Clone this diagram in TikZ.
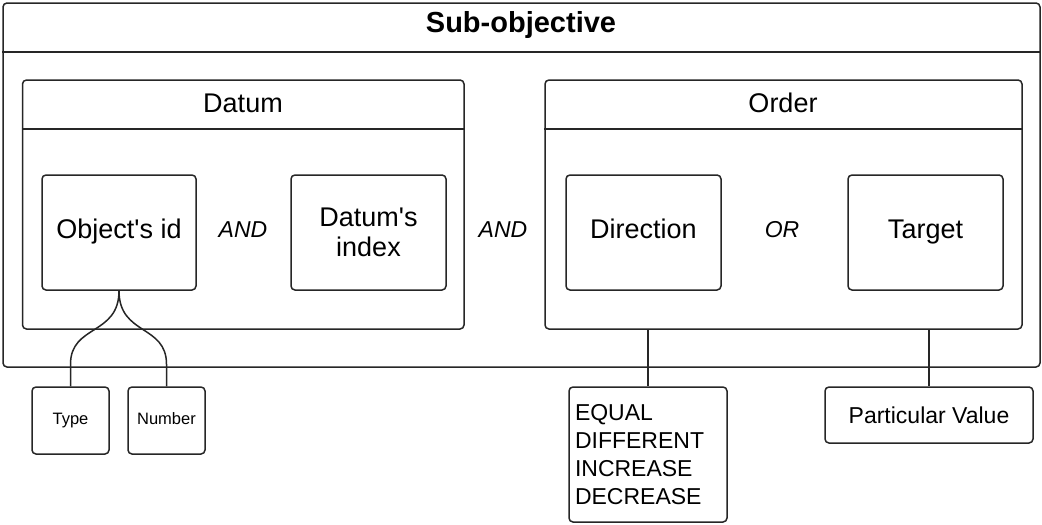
\documentclass[tikz,border=0pt]{standalone}
\usepackage{fontspec}
\setmainfont{Liberation Sans}
\usetikzlibrary{calc}
\begin{document}
\begin{tikzpicture}[x=1pt,y=-1pt,
  frame/.style={draw=black!85, line width=1.5pt, rounded corners=4pt, inner sep=0pt, fill=white},
  itembox/.style={frame, font=\fontsize{27}{30}\selectfont, align=center},
  leafbox/.style={frame},
  link/.style={draw=black!85, line width=1.5pt},
  conj/.style={font=\fontsize{23}{26}\selectfont\itshape},
  header/.style={font=\fontsize{27}{30}\selectfont}
]
\useasboundingbox (0,0) rectangle (1042,525);

% outer container
\node[frame, minimum width=1037pt, minimum height=364pt] (outer) at (521.5,185) {};
\coordinate (h1) at (0,52);
\draw[link] (outer.west |- h1) -- (outer.east |- h1);
\node[font=\fontsize{29}{32}\selectfont\bfseries] (title) at (521,25) {Sub-objective};

% Datum and Order groups
\node[frame, minimum width=441.5pt, minimum height=249pt] (datum) at (243.25,204.5) {};
\node[frame, minimum width=477pt, minimum height=249pt] (order) at (783.5,204.5) {};
\coordinate (h2) at (0,129);
\draw[link] (datum.west |- h2) -- (datum.east |- h2);
\draw[link] (order.west |- h2) -- (order.east |- h2);
\node[header] (datumlbl) at (243,103) {Datum};
\node[header] (orderlbl) at (783,103) {Order};

% inner items
\node[itembox, minimum width=154pt, minimum height=115pt] (objid) at (119,232.5) {\strut Object\textquotesingle s id};
\node[itembox, minimum width=155pt, minimum height=115pt] (index) at (368.5,232.5) {Datum\textquotesingle s\\index};
\node[itembox, minimum width=155pt, minimum height=115pt] (direction) at (643.5,232.5) {\strut Direction};
\node[itembox, minimum width=155pt, minimum height=115pt] (target) at (925.5,232.5) {\strut Target};

\node[conj] (and1) at (243,230) {AND};
\node[conj] (and2) at (503,230) {AND};
\node[conj] (or1) at (782,230) {OR};

% leaves
\node[leafbox, minimum width=77pt, minimum height=67pt, font=\fontsize{16.5}{19}\selectfont] (type) at (70.5,420.5) {Type};
\node[leafbox, minimum width=77pt, minimum height=67pt, font=\fontsize{16.5}{19}\selectfont] (number) at (166.5,420.5) {\strut Number};
\node[leafbox, minimum width=158pt, minimum height=135pt, inner sep=6pt, text width=146pt, align=left,
      font=\fontsize{23}{28}\selectfont] (values) at (648,454.5) {EQUAL\\DIFFERENT\\INCREASE\\DECREASE};
\node[leafbox, minimum width=208pt, minimum height=56pt, font=\fontsize{23}{26}\selectfont] (particular) at (929,415) {Particular Value};

% connectors
\draw[link] (objid.south) .. controls +(0,45) and +(0,-40) .. ($(type.north)+(0,-22)$) -- (type.north);
\draw[link] (objid.south) .. controls +(0,45) and +(0,-40) .. ($(number.north)+(0,-22)$) -- (number.north);
\draw[link] (values.north |- order.south) -- (values.north);
\draw[link] (particular.north |- order.south) -- (particular.north);
\end{tikzpicture}
\end{document}
